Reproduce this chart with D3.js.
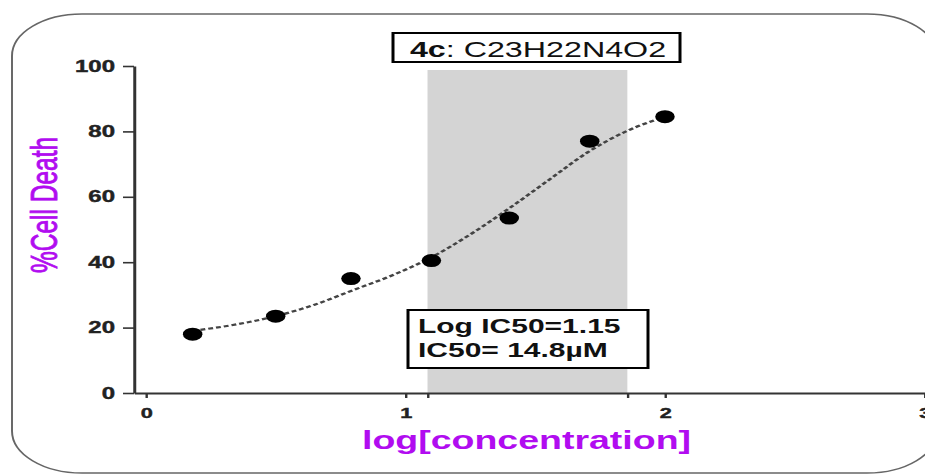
<!DOCTYPE html>
<html lang="en">
<head>
<meta charset="UTF-8">
<title>4c: C23H22N4O2</title>
<script src="https://cdn.jsdelivr.net/npm/d3@7"></script>
<style>
  body { margin: 0; background: #fff; }
  text { font-family: "Liberation Sans", Arial, sans-serif; }
</style>
</head>
<body>
<svg width="925" height="475"></svg>
<script>
// data
const logConc   = [0.18, 0.5, 0.79, 1.1, 1.4, 1.71, 2.0];
const cellDeath = [18, 23.5, 35, 40.5, 53.5, 77, 84.5];
// fitted curve, sampled by eye along the dashed line
const fitX = [0.18, 0.35, 0.5, 0.65, 0.8, 0.95, 1.1, 1.25, 1.4, 1.55, 1.7, 1.85, 2.0];
const fitY = [19, 21, 23.5, 27, 31.5, 36, 41.5, 48.5, 56.5, 65, 73.5, 80, 84.5];
const ciBand = [1.085, 1.855];
const yTicks = [0, 20, 40, 60, 80, 100];
const xTicks = [0, 1, 2, 3];
const titleId = "4c";
const titleFormula = ": C23H22N4O2";
const icLines = ["Log IC50=1.15", "IC50= 14.8\u00b5M"];

// the original picture is stretched sideways, so draw in a squeezed viewBox
const K = 1.5;
const px = v => v / K;
const purple = "#b10cf0";

const svg = d3.select("svg")
    .attr("viewBox", `0 0 ${925 / K} 475`)
    .attr("preserveAspectRatio", "none");

const x = d3.scaleLinear().domain([-0.046, 3]).range([px(134), px(924.5)]);
const y = d3.scaleLinear().domain([0, 100]).range([393, 66]);

// rounded frame
svg.append("rect")
    .attr("x", px(12)).attr("y", 14)
    .attr("width", px(925)).attr("height", 459)
    .attr("rx", px(70)).attr("ry", 42)
    .attr("fill", "none").attr("stroke", "#666").attr("stroke-width", 1.3);

// shaded band
svg.append("rect")
    .attr("x", x(ciBand[0])).attr("y", 70)
    .attr("width", x(ciBand[1]) - x(ciBand[0]))
    .attr("height", 393 - 70)
    .attr("fill", "#d4d4d4");

// axes
const yAxis = svg.append("g")
    .attr("transform", `translate(${px(134)},0)`)
    .call(d3.axisLeft(y).tickValues(yTicks).tickSize(px(11)).tickSizeOuter(0).tickPadding(px(8)));

const xAxis = svg.append("g")
    .attr("transform", "translate(0,393)")
    .call(d3.axisBottom(x)
        .tickValues(xTicks.concat(ciBand))
        .tickFormat(d => Number.isInteger(d) ? d : "")
        .tickSize(5).tickSizeOuter(0).tickPadding(10));

[yAxis, xAxis].forEach(g => {
    g.select(".domain").attr("stroke", "#333").attr("stroke-width", 2);
    g.selectAll(".tick line").attr("stroke", "#333").attr("stroke-width", 1.6);
    g.selectAll(".tick text")
        .attr("fill", "#222")
        .attr("stroke", "#222").attr("stroke-width", 0.4)
        .attr("font-family", "Liberation Sans, Arial, sans-serif")
        .attr("font-weight", "bold");
});
yAxis.selectAll(".tick text").attr("font-size", 16);
xAxis.selectAll(".tick text").attr("font-size", 14.5);

// fit curve
const fit = fitX.map((d, i) => [d, fitY[i]]);
svg.append("path")
    .datum(fit)
    .attr("fill", "none")
    .attr("stroke", "#444")
    .attr("stroke-width", 2.2)
    .attr("stroke-dasharray", "3.3,2")
    .attr("d", d3.line().x(d => x(d[0])).y(d => y(d[1])).curve(d3.curveMonotoneX));

// points
svg.selectAll("circle.pt")
    .data(logConc.map((d, i) => [d, cellDeath[i]]))
    .join("circle")
    .attr("class", "pt")
    .attr("cx", d => x(d[0]))
    .attr("cy", d => y(d[1]))
    .attr("r", 6.5)
    .attr("fill", "#000");

// title box
svg.append("rect")
    .attr("x", px(393)).attr("y", 33)
    .attr("width", px(287)).attr("height", 29)
    .attr("fill", "#fff").attr("stroke", "#000").attr("stroke-width", 2);
const t = svg.append("text")
    .attr("x", px(538)).attr("y", 57)
    .attr("text-anchor", "middle")
    .attr("font-size", 21.5)
    .attr("fill", "#111");
t.append("tspan").attr("font-weight", "bold").text(titleId);
t.append("tspan").text(titleFormula);

// IC50 box
svg.append("rect")
    .attr("x", px(408)).attr("y", 310)
    .attr("width", px(240)).attr("height", 58)
    .attr("fill", "#fff").attr("stroke", "#000").attr("stroke-width", 2);
svg.selectAll("text.ic")
    .data(icLines)
    .join("text")
    .attr("class", "ic")
    .attr("x", px(418))
    .attr("y", (d, i) => 333 + i * 24)
    .attr("font-size", 20)
    .attr("font-weight", "bold")
    .attr("fill", "#111")
    .text(d => d);

// axis titles
svg.append("text")
    .attr("transform", `translate(${px(57)},205) rotate(-90)`)
    .attr("text-anchor", "middle")
    .attr("font-size", 24.5)
    .attr("fill", purple)
    .attr("stroke", purple).attr("stroke-width", 0.6)
    .text("%Cell Death");

svg.append("text")
    .attr("x", px(526.5)).attr("y", 449)
    .attr("text-anchor", "middle")
    .attr("font-size", 25)
    .attr("font-weight", "bold")
    .attr("fill", purple)
    .text("log[concentration]");
</script>
</body>
</html>
